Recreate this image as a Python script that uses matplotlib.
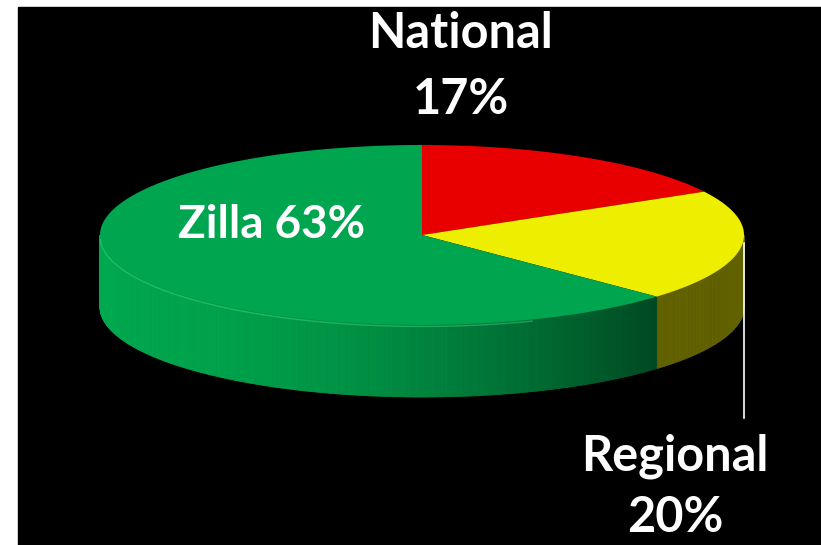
import numpy as np
import matplotlib.pyplot as plt
from matplotlib.patches import Polygon, Rectangle
from matplotlib.colors import to_rgb

labels = ["National", "Regional", "Zilla"]
shares = [17, 20, 63]
top_colors = ["#e80000", "#eeee00", "#00a550"]
side_colors = ["#a00000", "#6e6e00", "#00a84f"]

# pie geometry in pixel coords
cx, cy = 422, 235
a, b = 322, 90
depth = 72

fig = plt.figure(figsize=(8.21, 5.45), dpi=100)
fig.patch.set_facecolor("white")
ax = fig.add_axes([0, 0, 1, 1])
ax.set_xlim(0, 821)
ax.set_ylim(545, 0)
ax.axis("off")
ax.add_patch(Rectangle((18, 7), 821 - 18, 545 - 7, color="black", zorder=0))

def rim(th, dy=0):
    return cx + a * np.cos(th), cy - b * np.sin(th) + dy

# slice angles, clockwise from top
fr = np.array(shares) / sum(shares)
starts = 90 - 360 * np.concatenate([[0], np.cumsum(fr)[:-1]])
ends = starts - 360 * fr
cmax = 1 + np.cos(np.radians(ends[1]))

# sides (front half only)
for i in range(len(shares)):
    lo, hi = ends[i], starts[i]
    for shift in (0, -360, 360):
        l, h = max(lo + shift, -180), min(hi + shift, 0)
        if h <= l:
            continue
        ths = np.linspace(l, h, int((h - l) * 2) + 2)
        base = np.array(to_rgb(side_colors[i]))
        for t0, t1 in zip(ths[:-1], ths[1:]):
            tm = np.radians((t0 + t1) / 2)
            if i == 1:
                f = 1.0 - 0.12 * (1 + np.cos(tm)) / 2
            else:
                f = 1.0 - 0.56 * (min((1 + np.cos(tm)) / cmax, 1)) ** 1.8
            col = np.clip(base * f, 0, 1)
            r0, r1 = np.radians(t0), np.radians(t1)
            x0, y0 = rim(r0)
            x1, y1 = rim(r1)
            poly = [(x0, y0), (x1, y1), (x1, y1 + depth), (x0, y0 + depth)]
            ax.add_patch(Polygon(poly, closed=True, facecolor=col,
                                 edgecolor=col, linewidth=0.6, zorder=2))

# top faces
for i in range(len(shares)):
    ths = np.radians(np.linspace(starts[i], ends[i], 200))
    xs, ys = rim(ths)
    pts = [(cx, cy)] + list(zip(xs, ys))
    ax.add_patch(Polygon(pts, closed=True, facecolor=top_colors[i],
                         edgecolor="none", zorder=3))

# soft highlight along the front top edge
ths = np.radians(np.linspace(-178, -70, 200))
xs, ys = rim(ths, 1.5)
ax.plot(xs, ys, color="#40d080", lw=1.0, alpha=0.5, zorder=4)

# labels
font = dict(family="Lato", weight="bold", color="white", ha="center",
            va="center", zorder=5)
ax.text(461, 33, labels[0], fontsize=35, **font)
ax.text(461, 99, f"{shares[0]}%", fontsize=35, **font)
ax.text(272, 225, f"{labels[2]} {shares[2]}%", fontsize=33, **font)
ax.text(675, 456, labels[1], fontsize=35, **font)
ax.text(675, 517, f"{shares[1]}%", fontsize=35, **font)
ax.plot([744, 744], [243, 418], color="white", lw=1.2, zorder=5)

fig.savefig("out.png", dpi=100, facecolor="white")
